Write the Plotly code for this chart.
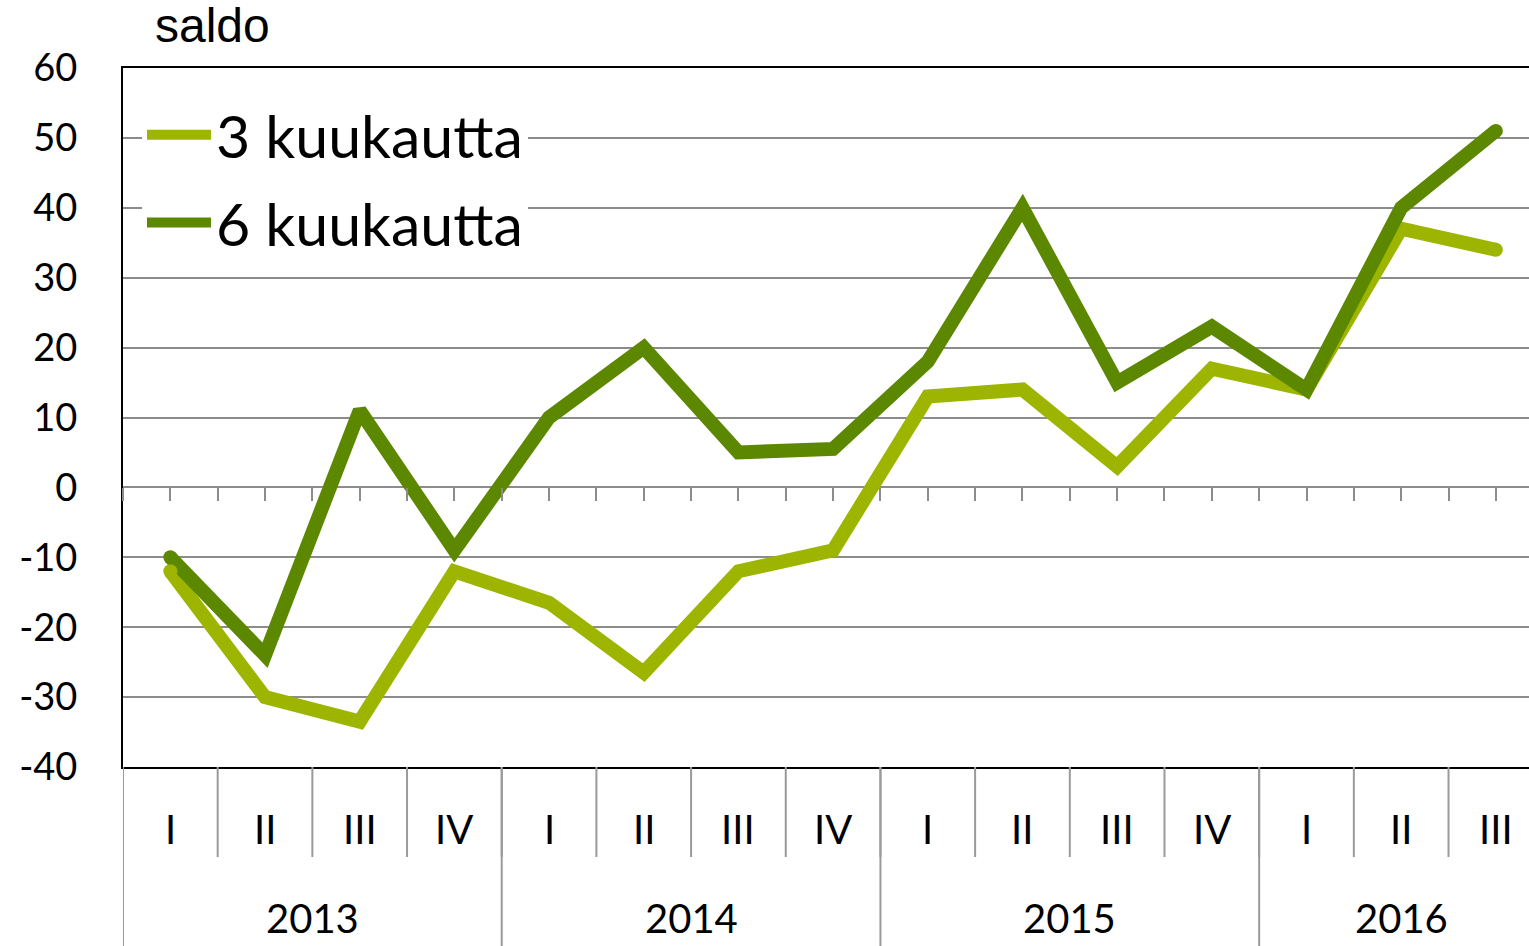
import plotly.graph_objects as go

# ---- data ----
quarters = ["I", "II", "III", "IV", "I", "II", "III", "IV",
            "I", "II", "III", "IV", "I", "II", "III"]
years = ["2013", "2014", "2015", "2016"]
year_lengths = [4, 4, 4, 3]
kk3 = [-12, -30, -33.5, -12, -16.5, -26.5, -12, -9, 13, 14, 3, 17, 14, 37, 34]
kk6 = [-10, -24, 11, -9, 10, 20, 5, 5.5, 18, 40, 15, 23, 14, 40, 51]
series_names = ["3 kuukautta", "6 kuukautta"]
y_ticks = [-40, -30, -20, -10, 0, 10, 20, 30, 40, 50, 60]
y_ticktext = ["-40", "-30", "-20", "-10", "0", "10", "20", "30", "40", "50", "60"]
y_title = "saldo"

# ---- style ----
C3 = "#9EB500"
C6 = "#5C8800"
GRID = "#8C8C8C"
SEP = "#9A9A9A"
FONT = "Lato"
LW = 14

xs = list(range(len(quarters)))

fig = go.Figure()
fig.add_trace(go.Scatter(x=xs, y=kk3, mode="lines", name=series_names[0],
                         line=dict(color=C3, width=LW), legendgroup="a"))
fig.add_trace(go.Scatter(x=xs, y=kk6, mode="lines", name=series_names[1],
                         line=dict(color=C6, width=LW), legendgroup="b"))
# round line ends (first and last points)
for ys, c in ((kk3, C3), (kk6, C6)):
    fig.add_trace(go.Scatter(x=[xs[0], xs[-1]], y=[ys[0], ys[-1]], mode="markers",
                             marker=dict(color=c, size=LW, line=dict(width=0)),
                             showlegend=False, hoverinfo="skip"))
# carrier trace for the tick axis drawn along the zero line
fig.add_trace(go.Scatter(x=xs, y=[None] * len(xs), xaxis="x2", mode="lines",
                         showlegend=False, hoverinfo="skip"))

# geometry
L, T, B = 123, 68, 179
H = 946
ph = H - T - B


def py(px_from_top):
    return (H - B - px_from_top) / ph


shapes = []
# quarter separators
for i in range(len(quarters) - 1):
    shapes.append(dict(type="line", xref="x", yref="paper", x0=i + 0.5, x1=i + 0.5,
                       y0=0, y1=py(857), line=dict(color=SEP, width=2)))
# year separators
pos = -0.5
for n in year_lengths:
    shapes.append(dict(type="line", xref="x", yref="paper", x0=pos, x1=pos,
                       y0=0, y1=py(960), line=dict(color=SEP, width=2)))
    pos += n

annotations = []
for i, q in enumerate(quarters):
    annotations.append(dict(x=i, y=py(829), xref="x", yref="paper", text=q,
                            showarrow=False, xanchor="center", yanchor="middle",
                            font=dict(family=FONT, size=40, color="black")))
pos = 0
for yr, n in zip(years, year_lengths):
    annotations.append(dict(x=pos + (n - 1) / 2, y=py(918), xref="x", yref="paper",
                            text=yr, showarrow=False, xanchor="center", yanchor="middle",
                            font=dict(family=FONT, size=40, color="black")))
    pos += n
annotations.append(dict(x=(153 - L) / (1529 - L), y=py(26), xref="paper", yref="paper",
                        text=y_title, showarrow=False, xanchor="left", yanchor="middle",
                        font=dict(family="Liberation Sans", size=48, color="black")))

xrange = [-0.5, 14.35]
fig.update_layout(
    width=1529, height=946,
    margin=dict(l=L, r=0, t=T, b=B),
    paper_bgcolor="white", plot_bgcolor="white",
    showlegend=True,
    legend=dict(x=0.0135, y=py(90), xanchor="left", yanchor="top",
                bgcolor="white", font=dict(family=FONT, size=59, color="black"),
                traceorder="grouped", tracegroupgap=8, itemwidth=64),
    xaxis=dict(range=xrange, showgrid=False, zeroline=False, showticklabels=False,
               ticks="", showline=True, mirror=True, linecolor="black", linewidth=2),
    xaxis2=dict(range=xrange, overlaying="x", anchor="free", position=0.4, side="bottom",
                tickmode="linear", tick0=0, dtick=0.5, ticks="outside", ticklen=13,
                tickwidth=2, tickcolor=GRID, showticklabels=False, showgrid=False,
                showline=False, zeroline=False),
    yaxis=dict(range=[-40, 60], tickmode="array", tickvals=y_ticks, ticktext=y_ticktext,
               showgrid=True, gridcolor=GRID, gridwidth=2, zeroline=False,
               showline=True, linecolor="black", linewidth=2, ticks="",
               ticklabelstandoff=36,
               tickfont=dict(family=FONT, size=38, color="black")),
    shapes=shapes, annotations=annotations,
)

fig.write_html("out.html", config={"displayModeBar": False},
               post_script="document.body.style.margin='0';document.body.style.overflow='hidden';")
